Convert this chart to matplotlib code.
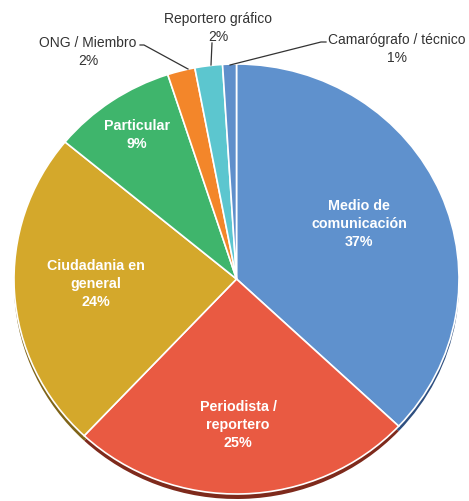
import matplotlib.pyplot as plt
from matplotlib.lines import Line2D

plt.rcParams['font.family'] = ['Liberation Sans', 'DejaVu Sans']

# data
categories = ['Medio de comunicación', 'Periodista / reportero', 'Ciudadania en general',
              'Particular', 'ONG / Miembro', 'Reportero gráfico', 'Camarógrafo / técnico']
values = [37, 25, 24, 9, 2, 2, 1]
colors = ['#5F91CD', '#E95A42', '#D4A82B', '#3FB56C', '#F3862A', '#5CC6CF', '#5F8FCB']
shadow_colors = ['#2E4F80', '#7E2A1C', '#7F6418', '#1F6B3C', '#8A4A12', '#2F7478', '#2E4F80']

W, H = 469, 502
cx, cy = 236.5, 280      # pie centre in pixels
rx, ry = 222.5, 215      # pie radii in pixels

fig = plt.figure(figsize=(W / 100, H / 100), dpi=100)
ax = fig.add_axes([0, 0, 1, 1])


def px(x, y):
    # pixel (from top-left) -> figure fraction
    return x / W, 1 - y / H


# shadow a few pixels below
shadow_dy = 5 / ry
ax.pie(values, colors=shadow_colors, startangle=90, counterclock=False,
       center=(0, -shadow_dy), wedgeprops=dict(linewidth=0))
ax.pie(values, colors=colors, startangle=90, counterclock=False,
       wedgeprops=dict(edgecolor='white', linewidth=1.2))

ax.set_aspect('auto')
ax.set_xlim(-cx / rx, (W - cx) / rx)
ax.set_ylim((cy - H) / ry, cy / ry)
ax.axis('off')

# labels inside the slices
inside = [
    ('Medio de\ncomunicación\n37%', 359, 224),
    ('Periodista /\nreportero\n25%', 238, 425),
    ('Ciudadania en\ngeneral\n24%', 96, 284),
    ('Particular\n9%', 137, 135),
]
for txt, x, y in inside:
    fig.text(*px(x, y), txt, color='white', fontsize=10.3, fontweight='bold',
             ha='center', va='center', multialignment='center', linespacing=1.38)

# labels outside with leader lines
label_color = '#333333'
outside = [
    ('ONG / Miembro\n2%', 88, 52),
    ('Reportero gráfico\n2%', 218, 28),
    ('Camarógrafo / técnico\n1%', 397, 49),
]
for txt, x, y in outside:
    fig.text(*px(x, y), txt, color=label_color, fontsize=10,
             ha='center', va='center', multialignment='center', linespacing=1.38)

leaders = [
    [(140, 46), (144, 46), (188, 70)],
    [(212, 44), (211, 66)],
    [(326, 43), (321, 43), (230, 66)],
]
for pts in leaders:
    xs = [px(*p)[0] for p in pts]
    ys = [px(*p)[1] for p in pts]
    fig.add_artist(Line2D(xs, ys, color=label_color, linewidth=0.9,
                          transform=fig.transFigure))

fig.savefig('out.png', dpi=100)
